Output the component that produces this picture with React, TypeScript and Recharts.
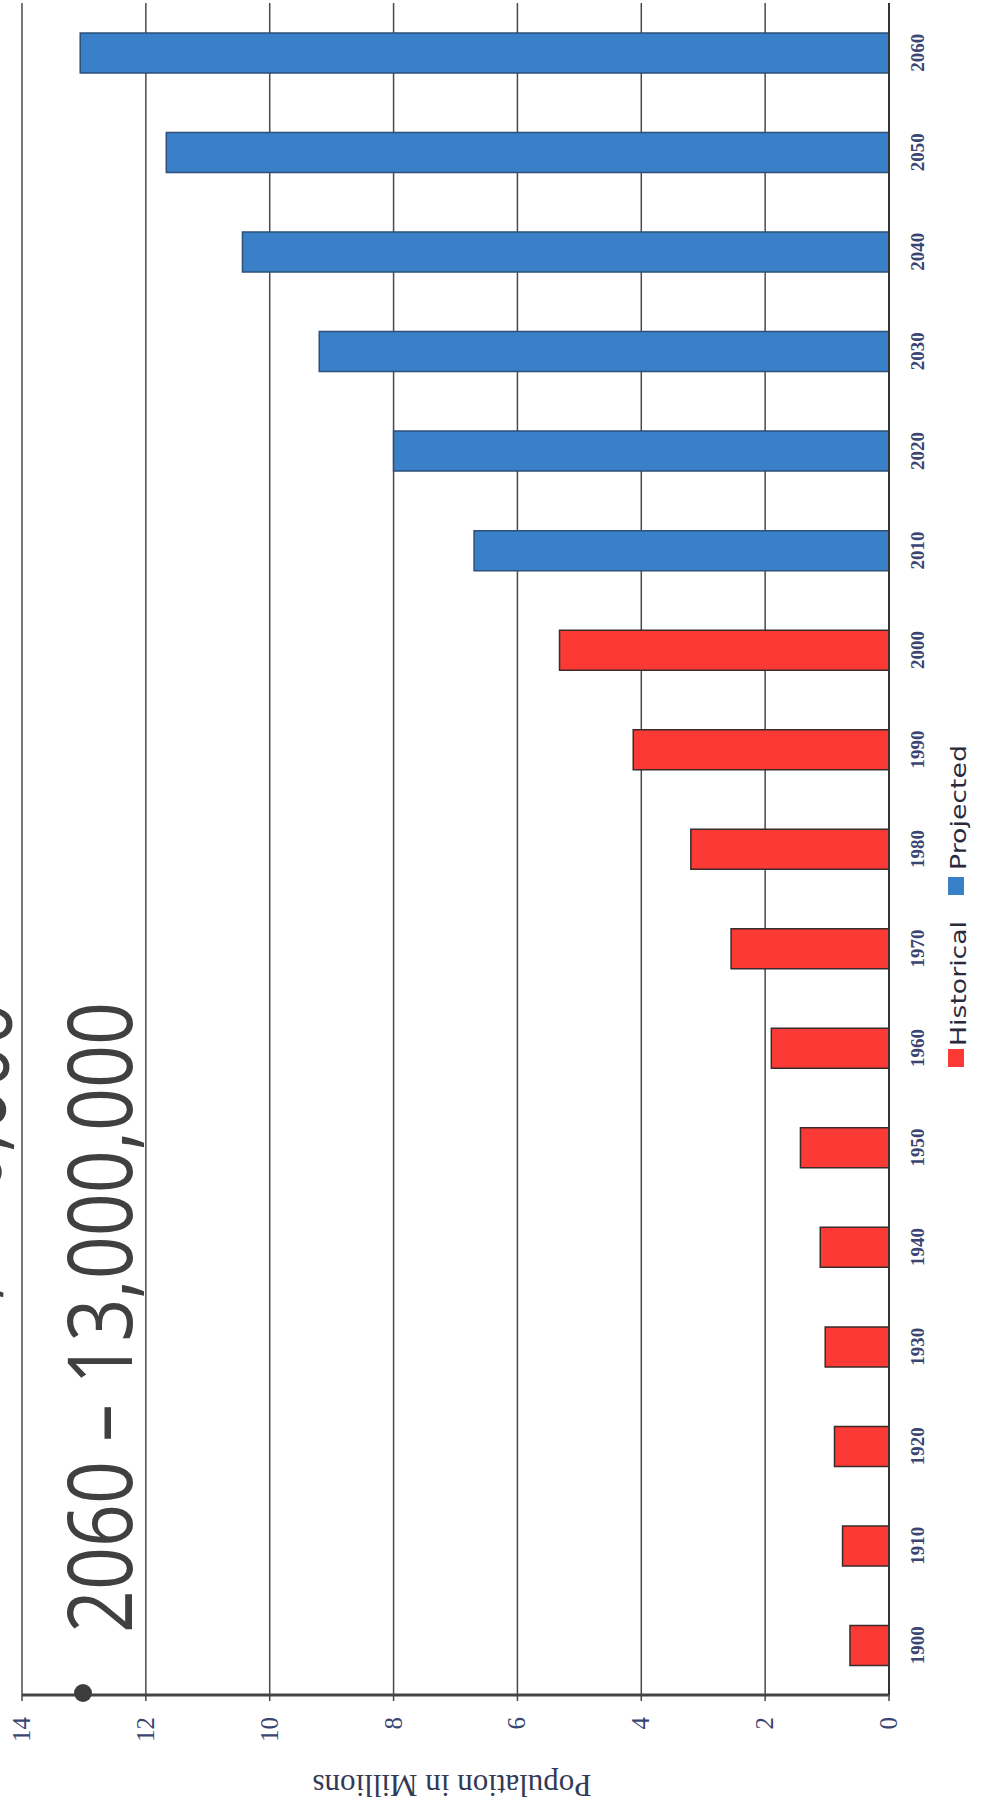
import React from "react";
import { BarChart, Bar, XAxis, YAxis, CartesianGrid, Legend } from "recharts";

const years = [
  "1900", "1910", "1920", "1930", "1940", "1950", "1960", "1970", "1980",
  "1990", "2000", "2010", "2020", "2030", "2040", "2050", "2060",
];
// millions
const historical = [0.63, 0.75, 0.88, 1.03, 1.11, 1.43, 1.9, 2.55, 3.2, 4.13, 5.32];
const projected = [6.7, 8.0, 9.2, 10.44, 11.67, 13.06];
const valueTicks = [0, 2, 4, 6, 8, 10, 12, 14];

const data = years.map((year, i) => ({
  year,
  historical: i < historical.length ? historical[i] : null,
  projected: i >= historical.length ? projected[i - historical.length] : null,
}));

const RED = "#fb3a35";
const BLUE = "#3a80c8";
const INK = "#3b4572";

function ValueTick({ x, payload }: any) {
  return (
    <text
      transform={`translate(${x + 8},1717) rotate(-90)`}
      textAnchor="end"
      fontFamily="Liberation Serif"
      fontSize={25}
      fill={INK}
    >
      {payload.value}
    </text>
  );
}

function YearTick({ y, payload }: any) {
  return (
    <text
      transform={`translate(924,${y}) rotate(-90)`}
      textAnchor="middle"
      fontFamily="Liberation Serif"
      fontWeight="bold"
      fontSize={19}
      fill={INK}
    >
      {payload.value}
    </text>
  );
}

function AxisTitle() {
  return (
    <text
      transform="translate(452,1775) rotate(180)"
      textAnchor="middle"
      fontFamily="Liberation Serif"
      fontSize={31}
      fill="#333a55"
    >
      Population in Millions
    </text>
  );
}

function LegendContent({ payload }: any) {
  const items = payload || [];
  // local coords: origin at (930, 700)
  const spots = [
    { sq: 358, txt: 346 },
    { sq: 186, txt: 170 },
  ];
  return (
    <svg width={51} height={400}>
      {items.map((it: any, i: number) => (
        <g key={it.value}>
          <rect x={18} y={spots[i].sq - 9} width={16} height={18} fill={it.color} />
          <text
            transform={`translate(36,${spots[i].txt}) rotate(-90)`}
            fontFamily="DejaVu Sans"
            fontSize={22}
            textLength={125}
            lengthAdjust="spacingAndGlyphs"
            fill="#2a2a3a"
          >
            {it.value}
          </text>
        </g>
      ))}
    </svg>
  );
}

export default function App() {
  return (
    <div style={{ position: "absolute", left: 0, top: 0, width: 981, height: 1817, background: "#fff" }}>
      <BarChart
        layout="vertical"
        width={981}
        height={1817}
        data={data}
        margin={{ top: 3, right: 32, bottom: 62, left: 22 }}
        barSize={40}
      >
        <CartesianGrid horizontal={false} stroke="#4a4a4a" strokeWidth={1.5} />
        <XAxis
          type="number"
          domain={[0, 14]}
          ticks={valueTicks}
          interval={0}
          reversed
          height={60}
          axisLine={{ stroke: "#444", strokeWidth: 3 }}
          tickLine={{ stroke: "#444", strokeWidth: 1.5 }}
          tickSize={6}
          tick={<ValueTick />}
          label={<AxisTitle />}
        />
        <YAxis
          type="category"
          dataKey="year"
          orientation="right"
          reversed
          width={60}
          interval={0}
          axisLine={{ stroke: "#333", strokeWidth: 2 }}
          tickLine={false}
          tick={<YearTick />}
        />
        <Legend
          layout="horizontal"
          verticalAlign="middle"
          align="center"
          content={<LegendContent />}
          wrapperStyle={{ position: "absolute", left: 930, top: 700, width: 51, height: 400 }}
        />
        <Bar dataKey="historical" name="Historical" stackId="a" fill={RED} stroke="#3a2a2a" strokeWidth={1.5} isAnimationActive={false} />
        <Bar dataKey="projected" name="Projected" stackId="a" fill={BLUE} stroke="#2d4f78" strokeWidth={1.5} isAnimationActive={false} />
      </BarChart>
      <svg
        width={981}
        height={1817}
        style={{ position: "absolute", left: 0, top: 0, pointerEvents: "none" }}
      >
        <circle cx={83} cy={1693} r={9} fill="#3d3d3d" />
        <text
          transform="translate(132,1633) rotate(-90)"
          fontFamily="Open Sans"
          fontSize={89}
          textLength={631}
          lengthAdjust="spacingAndGlyphs"
          fill="#404040"
        >
          2060 – 13,000,000
        </text>
        <text
          transform="translate(-33,1633) rotate(-85.8)"
          fontFamily="Open Sans"
          fontSize={89}
          textLength={631}
          lengthAdjust="spacingAndGlyphs"
          fill="#404040"
        >
          2050 – 11,000,000
        </text>
      </svg>
    </div>
  );
}
